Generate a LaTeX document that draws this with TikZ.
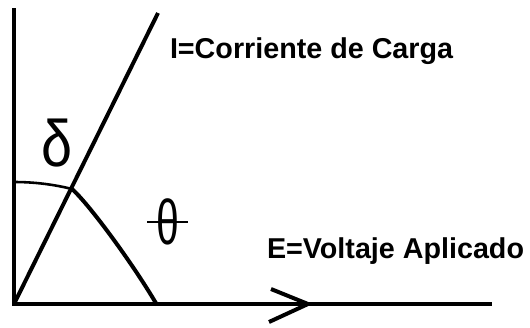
\documentclass[tikz,border=0pt]{standalone}
\usepackage{fontspec}
\setmainfont{Liberation Sans}
\usepackage{tikz}

\begin{document}
\begin{tikzpicture}[x=0.03cm,y=0.03cm,
  every node/.style={inner sep=0pt,outer sep=0pt},
  axisline/.style={line width=3.4pt},
  lbl/.style={font=\fontsize{24.5}{28}\selectfont\bfseries,anchor=base west}]
  \useasboundingbox (0,0) rectangle (530,327);
  \coordinate (O) at (14,23);
  \coordinate (ytop) at (14,319);
  \coordinate (xend) at (492,23);
  \coordinate (tip) at (308,23);
  \coordinate (armup) at (271,38);
  \coordinate (armdn) at (269,5);
  \coordinate (itop) at (158,314);
  \coordinate (cstart) at (14,145);
  \coordinate (P) at (72,138);
  \coordinate (cend) at (157,22);
  \draw[axisline] (O) -- (ytop);
  \draw[axisline] (12,23) -- (xend);
  \draw[axisline,line join=miter] (armup) -- (tip) -- (armdn);
  \draw[axisline] (O) -- (itop);
  \draw[line width=2.2pt] (cstart) .. controls (40,145) and (60,141) .. (P);
  \draw[axisline] (P) .. controls (90,122) and (135,60) .. (cend);
  \node[lbl] (ilbl) at (170,269) {I=Corriente de Carga};
  \node[lbl] (elbl) at (267,69) {E=Voltaje Aplicado};
  \node[font=\fontsize{56}{56}\selectfont] (delta) at (57,184) {\scalebox{0.85}[1]{δ}};
  \node[font=\fontsize{54}{54}\selectfont] (theta) at (168,105) {\scalebox{0.65}[1]{θ}};
  \draw[line width=1.8pt] ([xshift=-8pt]theta.west) -- ([xshift=7pt]theta.east);
\end{tikzpicture}
\end{document}
